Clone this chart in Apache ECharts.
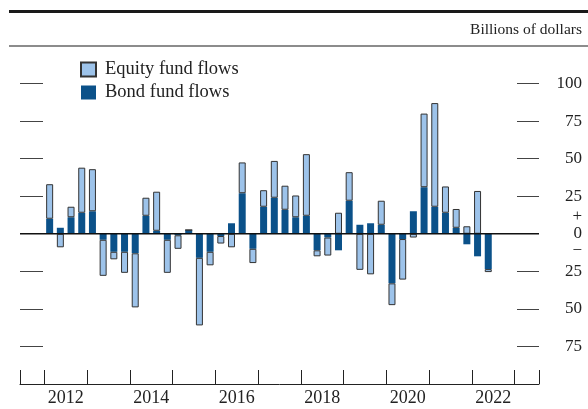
<!DOCTYPE html>
<html>
<head>
<meta charset="utf-8">
<script src="https://cdn.jsdelivr.net/npm/echarts@6/dist/echarts.min.js"></script>
<style>
    html, body { margin: 0; padding: 0; background: #fff; }
    #chart { width: 588px; height: 409px; }
</style>
</head>
<body>
<div id="chart"></div>
<script>
// quarterly flows, 2012:Q1 - 2022:Q2 (axis runs through 2022:Q4)
var quarters = [
    '2012Q1', '2012Q2', '2012Q3', '2012Q4', '2013Q1', '2013Q2', '2013Q3', '2013Q4',
    '2014Q1', '2014Q2', '2014Q3', '2014Q4', '2015Q1', '2015Q2', '2015Q3', '2015Q4',
    '2016Q1', '2016Q2', '2016Q3', '2016Q4', '2017Q1', '2017Q2', '2017Q3', '2017Q4',
    '2018Q1', '2018Q2', '2018Q3', '2018Q4', '2019Q1', '2019Q2', '2019Q3', '2019Q4',
    '2020Q1', '2020Q2', '2020Q3', '2020Q4', '2021Q1', '2021Q2', '2021Q3', '2021Q4',
    '2022Q1', '2022Q2', '2022Q3', '2022Q4'
]
var bondFlows = [10, 4, 11, 14, 15, -4, -12, -12, -13, 12, 2, -4, -1, 2.5, -16, -12,
    -1.5, 7, 27, -10, 18, 24, 16, 11, 12, -11, -2.5, -11, 22, 6, 7, 6,
    -33, -3.5, 15, 31, 18, 14, 4, -7, -15, -23.5]
var equityFlows = [23, -9, 7, 30, 28, -24, -5, -14, -36, 12, 26, -22, -9, 0, -45, -9,
    -5, -9, 20.5, -9.5, 11, 24.5, 16, 14.5, 41, -4, -12, 14, 19, -24, -27, 16,
    -14.5, -27, -2.5, 49, 69, 17.5, 12.5, 5, 28.5, -2]
var yearTicks = [2012, 2013, 2014, 2015, 2016, 2017, 2018, 2019, 2020, 2021, 2022, 2023]
var yearLabels = [2012, 2014, 2016, 2018, 2020, 2022]
var valueTicks = [-75, -50, -25, 25, 50, 75, 100]
var valueLabels = [-75, -50, -25, 0, 25, 50, 75, 100]

var xMin = 2011.432
var xMax = 2023.568
var font = "'Liberation Serif', 'Times New Roman', serif"

var chart = echarts.init(document.getElementById('chart'), null, { renderer: 'canvas' })
var option = {
    animation: false,
    textStyle: { fontFamily: font },
    graphic: [
        {
            type: 'line',
            shape: { x1: 9, y1: 11.5, x2: 588, y2: 11.5 },
            style: { stroke: '#1a1a1a', lineWidth: 3 }
        },
        {
            type: 'line',
            shape: { x1: 9, y1: 46, x2: 588, y2: 46 },
            style: { stroke: '#8c8c8c', lineWidth: 2 }
        },
        {
            type: 'text',
            right: 6,
            top: 22,
            style: { text: 'Billions of dollars', fill: '#222', font: '15.5px ' + font }
        }
    ],
    legend: {
        orient: 'vertical',
        left: 80,
        top: 60,
        padding: 0,
        icon: 'rect',
        itemWidth: 15,
        itemHeight: 14,
        itemGap: 4,
        data: ['Equity fund flows', 'Bond fund flows'],
        textStyle: { fontFamily: font, fontSize: 18.5, color: '#222', padding: [0, 0, 0, 4] }
    },
    grid: [
        // full frame: ticks, labels, zero line
        { left: 20, right: 49, top: 46, bottom: 25 },
        // bars: 2012:Q1 .. 2022:Q4
        { left: 44.3, right: 73, top: 46, bottom: 25 }
    ],
    xAxis: [
        {
            type: 'value',
            gridIndex: 0,
            min: xMin,
            max: xMax,
            splitLine: { show: false },
            axisLine: { show: true, onZero: false, lineStyle: { color: '#222', width: 1 } },
            axisTick: {
                show: true,
                inside: true,
                length: 14,
                customValues: [xMin].concat(yearTicks).concat([xMax]),
                lineStyle: { color: '#222', width: 1 }
            },
            axisLabel: {
                customValues: yearLabels.map(function (y) { return y + 0.5 }),
                formatter: function (v) { return String(Math.floor(v)) },
                fontFamily: font,
                fontSize: 18,
                color: '#222',
                margin: 5
            }
        },
        {
            type: 'category',
            gridIndex: 1,
            data: quarters,
            show: false
        }
    ],
    yAxis: [
        {
            type: 'value',
            gridIndex: 0,
            position: 'left',
            min: -100,
            max: 125,
            splitLine: { show: false },
            axisLine: { show: false },
            axisTick: {
                show: true,
                inside: true,
                length: 23,
                customValues: valueTicks,
                lineStyle: { color: '#444', width: 1 }
            },
            axisLabel: { show: false }
        },
        {
            type: 'value',
            gridIndex: 0,
            position: 'right',
            min: -100,
            max: 125,
            splitLine: { show: false },
            axisLine: { show: false },
            axisTick: {
                show: true,
                inside: true,
                length: 22,
                customValues: valueTicks,
                lineStyle: { color: '#444', width: 1 }
            },
            axisLabel: {
                customValues: valueLabels,
                align: 'right',
                margin: 43,
                fontFamily: font,
                fontSize: 17,
                color: '#222',
                formatter: function (v) {
                    if (v === 0) return '{s|+}\n{s|0}\n{s|\u2212}'
                    return String(Math.abs(v))
                },
                rich: {
                    s: { fontFamily: font, fontSize: 17, color: '#222', lineHeight: 17 }
                }
            }
        },
        {
            type: 'value',
            gridIndex: 1,
            min: -100,
            max: 125,
            show: false,
            splitLine: { show: false }
        }
    ],
    series: [
        {
            name: 'Bond fund flows',
            type: 'bar',
            xAxisIndex: 1,
            yAxisIndex: 2,
            stack: 'flows',
            barWidth: 7,
            itemStyle: { color: '#0b5189' },
            data: bondFlows
        },
        {
            name: 'Equity fund flows',
            type: 'bar',
            xAxisIndex: 1,
            yAxisIndex: 2,
            stack: 'flows',
            barWidth: 7,
            itemStyle: { color: '#9dc3ea', borderColor: '#333', borderWidth: 1 },
            data: equityFlows
        },
        {
            name: 'zero',
            type: 'line',
            xAxisIndex: 0,
            yAxisIndex: 0,
            z: 5,
            symbol: 'none',
            silent: true,
            lineStyle: { color: '#111', width: 1.5 },
            data: [[xMin, 0], [xMax, 0]]
        }
    ]
}
chart.setOption(option)
window.addEventListener('resize', function () {
    chart.resize()
})
</script>
</body>
</html>
